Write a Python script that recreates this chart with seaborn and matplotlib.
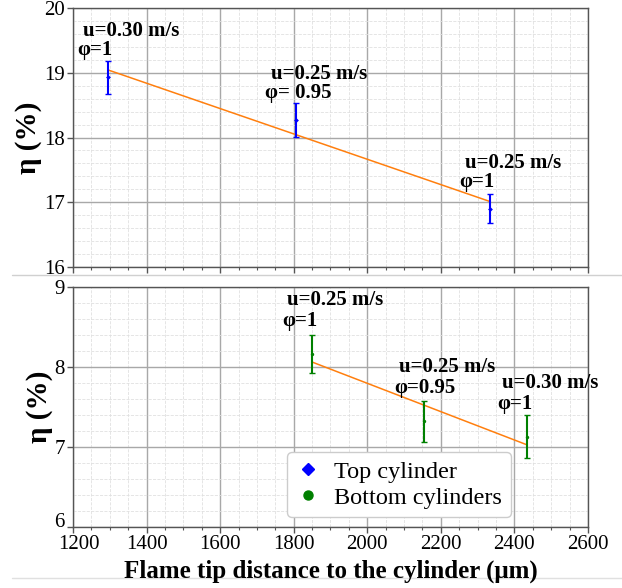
import numpy as np
import seaborn as sns
import matplotlib.pyplot as plt
import matplotlib.transforms as mtransforms
from matplotlib.lines import Line2D

# Top cylinder data
top_x = [1296, 1805, 2333]
top_y = [18.93, 18.27, 16.90]
top_err = [0.26, 0.26, 0.23]
top_u = ['u=0.30 m/s', 'u=0.25 m/s', 'u=0.25 m/s']
top_phi = ['φ=1', 'φ= 0.95', 'φ=1']

# Bottom cylinders data
bot_x = [1850, 2155, 2435]
bot_y = [8.16, 7.32, 7.13]
bot_err = [0.24, 0.255, 0.265]
bot_u = ['u=0.25 m/s', 'u=0.25 m/s', 'u=0.30 m/s']
bot_phi = ['φ=1', 'φ=0.95', 'φ=1']

sns.set_theme(style='white')
plt.rcParams['font.family'] = ['Liberation Serif', 'DejaVu Serif']
plt.rcParams['text.color'] = 'black'
plt.rcParams['axes.labelcolor'] = 'black'
plt.rcParams['xtick.labelcolor'] = 'black'
plt.rcParams['ytick.labelcolor'] = 'black'

fig = plt.figure(figsize=(6.22, 5.88), dpi=100)
ax1 = fig.add_axes([0.1174, 0.5464, 0.8279, 0.4395])
ax2 = fig.add_axes([0.1174, 0.1042, 0.8279, 0.4072])


def draw_panel(ax, x, y, err, color, marker, u_txt, phi_txt, u_off, phi_off):
    ax.errorbar(x, y, yerr=err, fmt='none', ecolor=color, elinewidth=1.5,
                capsize=2.2, capthick=1, zorder=3)
    sns.scatterplot(x=x, y=y, ax=ax, color=color, marker=marker, s=6,
                    edgecolor=color, linewidth=0, zorder=4, legend=False)
    sns.regplot(x=np.array(x), y=np.array(y), ax=ax, scatter=False, ci=None,
                line_kws=dict(color='#ff7f0e', lw=1.1, zorder=2))
    for xi, yi, ut, pt in zip(x, y, u_txt, phi_txt):
        ax.annotate(ut, xy=(xi, yi), xytext=u_off, textcoords='offset pixels',
                    fontsize=15, fontweight='bold', ha='left', va='baseline',
                    color='black')
        ax.annotate(pt, xy=(xi, yi), xytext=phi_off, textcoords='offset pixels',
                    fontsize=15, fontweight='bold', ha='left', va='baseline',
                    color='black')


draw_panel(ax1, top_x, top_y, top_err, 'blue', 'D',
           top_u, top_phi, (-25, 41), (-31, 22))
draw_panel(ax2, bot_x, bot_y, bot_err, 'green', 'o',
           bot_u, bot_phi, (-25, 49), (-30, 28))

for ax, (lo, hi) in [(ax1, (16, 20)), (ax2, (6, 9))]:
    ax.set_xlim(1200, 2600)
    ax.set_ylim(lo, hi)
    ax.set_xticks(np.arange(1200, 2601, 200))
    ax.set_xticks(np.arange(1200, 2601, 50), minor=True)
    ax.set_yticks(np.arange(lo, hi + 1, 1))
    ax.set_yticks(np.arange(lo, hi + 0.01, 0.2), minor=True)
    ax.grid(which='major', color='#a8a8a8', lw=1.0)
    ax.grid(which='minor', color='#e0e0e0', lw=0.6, ls='--')
    ax.set_axisbelow(True)
    for sp in ax.spines.values():
        sp.set_color('#555555')
        sp.set_linewidth(1.0)
    ax.tick_params(axis='both', which='major', direction='out', length=4,
                   width=1, color='#555555', labelcolor='black', labelsize=15,
                   pad=2, bottom=True, left=True)
    ax.tick_params(axis='both', which='minor', direction='out', length=2,
                   width=0.8, color='#555555', bottom=True, left=False)
    ax.set_ylabel('η (%)', fontsize=21, fontweight='bold', labelpad=1,
                  color='black')
    ax.set_xlabel('')

ax1.tick_params(axis='x', which='both', labelbottom=False)
ax2.set_xlabel('Flame tip distance to the cylinder (μm)', fontsize=18,
               fontweight='bold', labelpad=4, color='black')

# nudge the two corner tick labels apart, as in the reference
fig.canvas.draw()
ax2.get_yticklabels()[0].set_transform(
    ax2.get_yticklabels()[0].get_transform()
    + mtransforms.ScaledTranslation(0, 7 / 100, fig.dpi_scale_trans))
ax2.get_xticklabels()[0].set_transform(
    ax2.get_xticklabels()[0].get_transform()
    + mtransforms.ScaledTranslation(6 / 100, 0, fig.dpi_scale_trans))

handles = [
    Line2D([], [], ls='none', marker='D', color='blue', markersize=6.5),
    Line2D([], [], ls='none', marker='o', color='green', markersize=6.5),
]
leg = ax2.legend(handles, ['Top cylinder', 'Bottom cylinders'],
                 loc='lower left', bbox_to_anchor=(0.4155, 0.04),
                 borderaxespad=0, fontsize=17.5, frameon=True, fancybox=True,
                 edgecolor='#cccccc', framealpha=1, handlelength=1.0,
                 handletextpad=0.6, labelspacing=0.15, borderpad=0.35)
for t in leg.get_texts():
    t.set_color('black')

# thin separator lines of the figure
fig.add_artist(Line2D([0.02, 1.0], [1 - 275 / 588] * 2, color='#d0d0d0',
                      lw=1, zorder=-1))
fig.add_artist(Line2D([0.02, 1.0], [1 - 578 / 588] * 2, color='#e0e0e0',
                      lw=1, zorder=-1))

fig.savefig('out.png', dpi=100)
